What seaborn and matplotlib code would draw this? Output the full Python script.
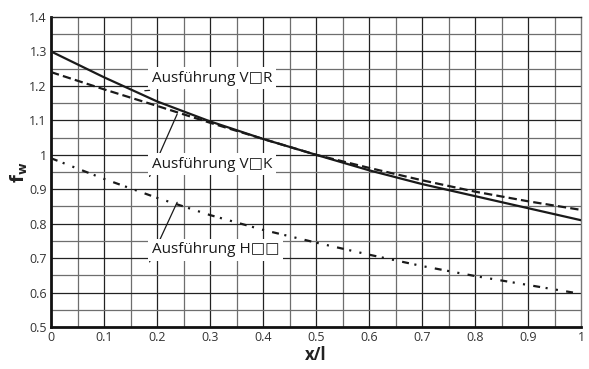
import matplotlib
matplotlib.use("Agg")
import matplotlib.pyplot as plt
import seaborn as sns
import numpy as np
import pandas as pd

# ---- data ----
x_vals = [0.0, 0.1, 0.2, 0.3, 0.4, 0.5, 0.6, 0.7, 0.8, 0.9, 1.0]
f_VR = [1.30, 1.225, 1.155, 1.097, 1.046, 1.0, 0.955, 0.915, 0.88, 0.845, 0.81]
f_VK = [1.24, 1.19, 1.142, 1.093, 1.046, 1.0, 0.962, 0.926, 0.893, 0.865, 0.84]
x_H = [0.0, 0.1, 0.2, 0.3, 0.4, 0.5, 0.6, 0.7, 0.8, 0.9, 0.985]
f_H = [0.99, 0.93, 0.875, 0.825, 0.782, 0.745, 0.71, 0.677, 0.648, 0.622, 0.60]

labels = ["Ausführung V\u25a1R", "Ausführung V\u25a1K", "Ausführung H\u25a1\u25a1"]
label_pos = [(0.19, 1.222), (0.19, 0.972), (0.19, 0.724)]
leader_to = [(0.177, 1.186), (0.238, 1.118), (0.238, 0.862)]

x_ticks = [0, 0.1, 0.2, 0.3, 0.4, 0.5, 0.6, 0.7, 0.8, 0.9, 1.0]
x_ticklabels = ["0", "0.1", "0.2", "0.3", "0.4", "0.5", "0.6", "0.7", "0.8", "0.9", "1"]
y_ticks = [0.5, 0.6, 0.7, 0.8, 0.9, 1.0, 1.1, 1.2, 1.3, 1.4]
y_ticklabels = ["0.5", "0.6", "0.7", "0.8", "0.9", "1", "1.1", "1.2", "1.3", "1.4"]

sns.set_style("white")
plt.rcParams['font.family'] = ['Open Sans', 'DejaVu Sans']
plt.rcParams['lines.scale_dashes'] = False

fig = plt.figure(figsize=(5.89, 3.69), dpi=100)
ax = fig.add_axes([51/589, 1-327/369, 530/589, 310/369])

# grid
for xv in np.arange(0.1, 1.0, 0.1):
    ax.axvline(xv, color='#222222', lw=0.9, zorder=0)
for xv in np.arange(0.05, 1.0, 0.1):
    ax.axvline(xv, color='#6e6e6e', lw=0.9, zorder=0)
for yv in np.arange(0.6, 1.4, 0.1):
    ax.axhline(yv, color='#222222', lw=0.9, zorder=0)
for yv in np.arange(0.55, 1.4, 0.1):
    ax.axhline(yv, color='#6e6e6e', lw=0.9, zorder=0)

sns.lineplot(x=x_vals, y=f_VR, ax=ax, color='#1a1a1a', lw=1.6, linestyle='-', zorder=3)
sns.lineplot(x=x_vals, y=f_VK, ax=ax, color='#1a1a1a', lw=1.6, linestyle=(0, (6, 3)), zorder=3)
sns.lineplot(x=x_H, y=f_H, ax=ax, color='#1a1a1a', lw=1.6,
             linestyle=(0, (5, 4, 1.5, 6, 1.5, 6)), zorder=3)

for lab, (lx, ly), (tx, ty) in zip(labels, label_pos, leader_to):
    ax.plot([lx - 0.004, tx], [ly - 0.035, ty], color='#1a1a1a', lw=0.9, zorder=4)
    ax.text(lx, ly, lab, fontsize=11, color='#1a1a1a', va='center', ha='left', zorder=5,
            bbox=dict(facecolor='white', edgecolor='none', pad=2.5))

ax.set_xlim(0, 1)
ax.set_ylim(0.5, 1.4)
ax.set_xticks(x_ticks)
ax.set_xticklabels(x_ticklabels)
ax.set_yticks(y_ticks)
ax.set_yticklabels(y_ticklabels)
ax.set_xticks(np.arange(0.05, 1.0, 0.1), minor=True)
ax.set_yticks(np.arange(0.55, 1.4, 0.1), minor=True)
ax.tick_params(axis='both', which='both', direction='in', color='#111111',
               labelsize=9, labelcolor='#333333', pad=3)
ax.tick_params(axis='both', which='major', length=5, width=1.2)
ax.tick_params(axis='both', which='minor', length=3, width=1.2)

for s in ['left', 'bottom']:
    ax.spines[s].set_color('#111111')
    ax.spines[s].set_linewidth(2.0)
ax.spines['top'].set_color('#222222')
ax.spines['top'].set_linewidth(1.0)
ax.spines['right'].set_color('#777777')
ax.spines['right'].set_linewidth(1.0)
for s in ax.spines.values():
    s.set_visible(True)

ax.set_xlabel("x/l", fontsize=12, fontweight='bold', color='#222222', labelpad=1)
ax.set_ylabel(r"$\mathbf{f}_{\mathbf{w}}$", fontsize=13, color='#222222', labelpad=0)

fig.savefig("out.png", dpi=100)
